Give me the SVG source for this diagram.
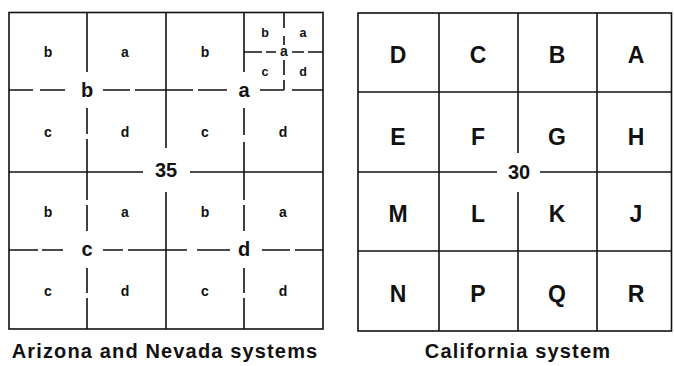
<svg xmlns="http://www.w3.org/2000/svg" width="674" height="366" viewBox="0 0 674 366">
<style>
.ln{stroke:#111;stroke-width:1.6;fill:none;stroke-linecap:butt}
.t{font-family:"Liberation Sans",Arial,sans-serif;font-weight:bold;fill:#111;text-anchor:middle}
.s{font-size:14px}
.xs{font-size:12.5px}
.q{font-size:20px}
.cap{font-size:23px}
.lg{font-size:20px;letter-spacing:1.15px}
</style>
<rect width="674" height="366" fill="#fff"/>
<g id="connectors">
<!-- left grid frame and main lines -->
<rect class="ln" x="9" y="12.5" width="314" height="316.5"/>
<line class="ln" x1="166" y1="12" x2="166" y2="148"/>
<line class="ln" x1="166" y1="192" x2="166" y2="329"/>
<line class="ln" x1="9" y1="172" x2="143" y2="172"/>
<line class="ln" x1="190" y1="172" x2="323" y2="172"/>
<!-- quarter lines upper -->
<path class="ln" d="M9 90H33M40 90H65M103 90H130M135 90H193M198 90H227M260 90H284M292 90H323"/>
<path class="ln" d="M87 12V72M87 108V134M87 139V172M244 12V72M244 108V135M244 142V172"/>
<!-- sixteenth lines -->
<path class="ln" d="M244 52H262M266 52H276M292 52H304M308 52H323"/>
<path class="ln" d="M284 12V28M284 36V45M284 60V75M284 80V90"/>
<!-- quarter lines lower -->
<path class="ln" d="M9 250H38M42 250H63M103 250H123M128 250H187M197 250H230M262 250H290M295 250H323"/>
<path class="ln" d="M87 172V200M87 205V231M87 268V293M87 298V329M244 172V200M244 205V231M244 268V293M244 298V329"/>
<!-- right grid -->
<rect class="ln" x="358" y="13" width="313.5" height="318"/>
<line class="ln" x1="439" y1="13" x2="439" y2="331"/>
<line class="ln" x1="597" y1="13" x2="597" y2="331"/>
<line class="ln" x1="518" y1="13" x2="518" y2="153"/>
<line class="ln" x1="518" y1="192" x2="518" y2="331"/>
<line class="ln" x1="358" y1="92" x2="671" y2="92"/>
<line class="ln" x1="358" y1="251" x2="671" y2="251"/>
<line class="ln" x1="358" y1="172" x2="497" y2="172"/>
<line class="ln" x1="540" y1="172" x2="671" y2="172"/>
</g>
<g id="arizona-nevada">
<text class="t s" x="48" y="57">b</text>
<text class="t s" x="125" y="57">a</text>
<text class="t s" x="205" y="57">b</text>
<text class="t xs" x="265" y="37">b</text>
<text class="t xs" x="303" y="37">a</text>
<text class="t s" x="284" y="56">a</text>
<text class="t xs" x="265" y="76">c</text>
<text class="t xs" x="303" y="76">d</text>
<text class="t q" x="87" y="97">b</text>
<text class="t q" x="244" y="97">a</text>
<text class="t s" x="48" y="137">c</text>
<text class="t s" x="125" y="137">d</text>
<text class="t s" x="205" y="137">c</text>
<text class="t s" x="283" y="137">d</text>
<text class="t q" x="166" y="177">35</text>
<text class="t s" x="48" y="217">b</text>
<text class="t s" x="125" y="217">a</text>
<text class="t s" x="205" y="217">b</text>
<text class="t s" x="283" y="217">a</text>
<text class="t q" x="87" y="256">c</text>
<text class="t q" x="244" y="256">d</text>
<text class="t s" x="48" y="296">c</text>
<text class="t s" x="125" y="296">d</text>
<text class="t s" x="205" y="296">c</text>
<text class="t s" x="283" y="296">d</text>
<text class="t lg" x="165" y="358">Arizona and Nevada systems</text>
</g>
<g id="california">
<text class="t cap" x="398" y="63">D</text>
<text class="t cap" x="478" y="63">C</text>
<text class="t cap" x="557" y="63">B</text>
<text class="t cap" x="636" y="63">A</text>
<text class="t cap" x="398" y="145">E</text>
<text class="t cap" x="478" y="145">F</text>
<text class="t cap" x="557" y="145">G</text>
<text class="t cap" x="636" y="145">H</text>
<text class="t q" x="519" y="179">30</text>
<text class="t cap" x="398" y="222">M</text>
<text class="t cap" x="478" y="222">L</text>
<text class="t cap" x="557" y="222">K</text>
<text class="t cap" x="636" y="222">J</text>
<text class="t cap" x="398" y="302">N</text>
<text class="t cap" x="478" y="302">P</text>
<text class="t cap" x="557" y="302">Q</text>
<text class="t cap" x="636" y="302">R</text>
<text class="t lg" x="518" y="358">California system</text>
</g>
</svg>
